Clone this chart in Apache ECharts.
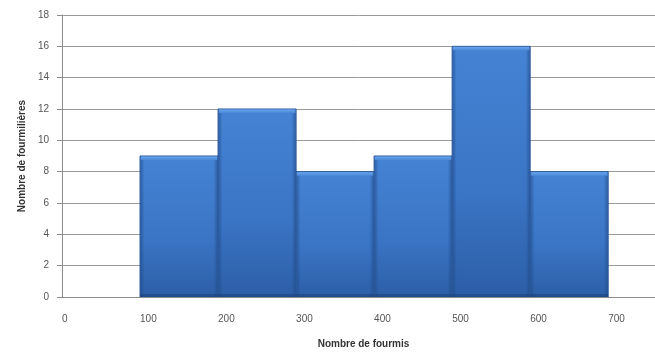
<!DOCTYPE html>
<html>
<head>
<meta charset="utf-8">
<script src="https://cdn.jsdelivr.net/npm/echarts@6/dist/echarts.min.js"></script>
<style>
  html, body { margin: 0; padding: 0; background: #fff; }
  #chart { width: 655px; height: 354px; }
</style>
</head>
<body>
<div id="chart"></div>
<script>
// Class boundaries (number of ants) and count of anthills per class
const classStart = [100, 200, 300, 400, 500, 600];
const classEnd = [200, 300, 400, 500, 600, 700];
const anthillCounts = [9, 12, 8, 9, 16, 8];
const yTicks = [0, 2, 4, 6, 8, 10, 12, 14, 16, 18];
const xTicks = [0, 100, 200, 300, 400, 500, 600, 700];

const binData = classStart.map((s, i) => [s, classEnd[i], anthillCounts[i]]);

const chart = echarts.init(document.getElementById('chart'), null, { renderer: 'canvas' });

function renderBin(params, api) {
  const x0 = api.value(0), x1 = api.value(1), v = api.value(2);
  const topLeft = api.coord([x0, v]);
  const bottomRight = api.coord([x1, 0]);
  const x = topLeft[0], y = topLeft[1];
  const w = bottomRight[0] - x, h = bottomRight[1] - y;
  return {
    type: 'group',
    children: [
      {
        type: 'rect',
        shape: { x: x, y: y, width: w, height: h },
        style: {
          fill: new echarts.graphic.LinearGradient(0, 0, 0, 1, [
            { offset: 0, color: '#4683d4' },
            { offset: 0.6, color: '#3a74c4' },
            { offset: 1, color: '#2c5ea6' }
          ]),
          stroke: '#2a5796',
          lineWidth: 1
        }
      },
      {
        type: 'rect',
        shape: { x: x + 1, y: y + 0.5, width: w - 2, height: 4 },
        style: {
          fill: new echarts.graphic.LinearGradient(0, 0, 0, 1, [
            { offset: 0, color: '#6aa6ee' },
            { offset: 1, color: '#4683d4' }
          ])
        }
      },
      {
        type: 'rect',
        shape: { x: x + 0.5, y: y + 4, width: 4, height: h - 4 },
        style: {
          fill: new echarts.graphic.LinearGradient(0, 0, 1, 0, [
            { offset: 0, color: 'rgba(30,70,130,0.55)' },
            { offset: 1, color: 'rgba(30,70,130,0)' }
          ])
        }
      },
      {
        type: 'rect',
        shape: { x: x + w - 4.5, y: y + 4, width: 4, height: h - 4 },
        style: {
          fill: new echarts.graphic.LinearGradient(0, 0, 1, 0, [
            { offset: 0, color: 'rgba(30,70,130,0)' },
            { offset: 1, color: 'rgba(30,70,130,0.55)' }
          ])
        }
      },
      {
        type: 'rect',
        shape: { x: x, y: y + h - 3, width: w, height: 3 },
        style: { fill: 'rgba(25,60,115,0.45)' }
      }
    ]
  };
}

const labelFont = { fontFamily: 'Liberation Sans', fontSize: 10, color: '#555' };

chart.setOption({
  animation: false,
  backgroundColor: '#fff',
  grid: { left: 62, right: 0, top: 15, bottom: 52, containLabel: false },
  xAxis: {
    type: 'value',
    min: 0,
    max: 760,
    interval: 100,
    name: 'Nombre de fourmis',
    nameLocation: 'middle',
    nameGap: 42,
    nameTextStyle: { fontFamily: 'Liberation Sans', fontSize: 10, fontWeight: 'bold', color: '#333', padding: [0, 0, 0, 10] },
    axisLine: { show: true, lineStyle: { color: '#8c8c8c', width: 1 } },
    axisTick: { show: false },
    splitLine: { show: false },
    axisLabel: Object.assign({}, labelFont, {
      align: 'left',
      margin: 17,
      showMaxLabel: false,
      formatter: v => (xTicks.indexOf(v) >= 0 ? String(v) : '')
    })
  },
  yAxis: {
    type: 'value',
    min: 0,
    max: 18,
    interval: 2,
    name: 'Nombre de fourmilières',
    nameLocation: 'middle',
    nameGap: 35,
    nameTextStyle: { fontFamily: 'Liberation Sans', fontSize: 10, fontWeight: 'bold', color: '#333' },
    axisLine: { show: true, lineStyle: { color: '#8c8c8c', width: 1 } },
    axisTick: { show: true, inside: false, length: 5, lineStyle: { color: '#8c8c8c' } },
    splitLine: { show: true, lineStyle: { color: '#9a9a9a', width: 1 } },
    axisLabel: Object.assign({}, labelFont, {
      margin: 13,
      formatter: v => (yTicks.indexOf(v) >= 0 ? String(v) : '')
    })
  },
  series: [{
    type: 'custom',
    renderItem: renderBin,
    encode: { x: [0, 1], y: 2 },
    data: binData,
    clip: true
  }]
});
</script>
</body>
</html>
